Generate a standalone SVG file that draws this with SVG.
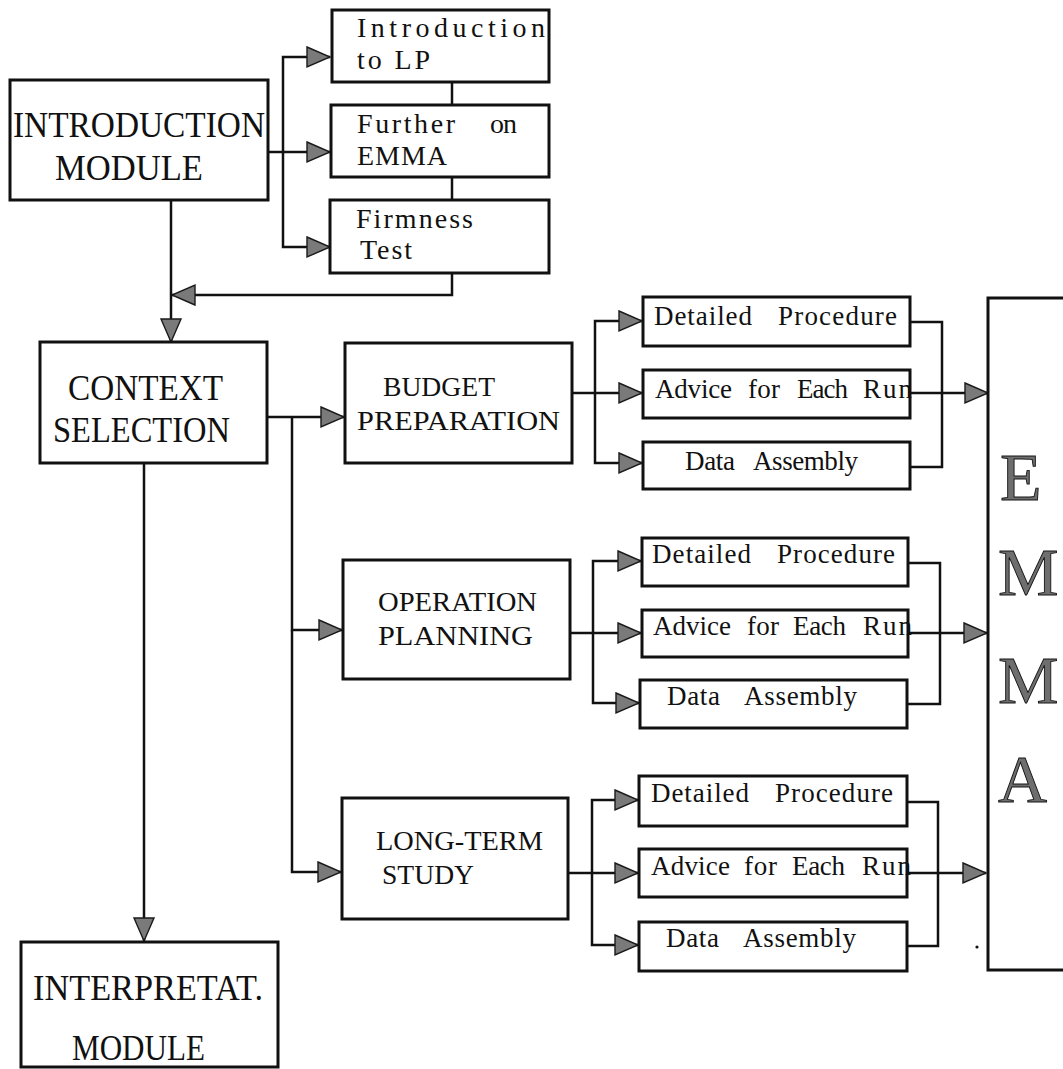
<svg xmlns="http://www.w3.org/2000/svg" width="1063" height="1069" viewBox="0 0 1063 1069">
  <style>
    .box { fill: #fff; stroke: #111; stroke-width: 3; }
    .wire { fill: none; stroke: #111; stroke-width: 2.5; }
    text { font-family: "Liberation Serif", "Times New Roman", serif; fill: #111; }
    .big { font-size: 36px; }
    .mid { font-size: 28px; }
    .sm { font-size: 28px; }
    .step { font-size: 27px; }
    .huge { font-size: 68px; fill: #6e6e6e; stroke: #111; stroke-width: 0.9; }
  </style>
  <defs>
    <marker id="arr" markerUnits="userSpaceOnUse" markerWidth="26" markerHeight="24" refX="24" refY="12" orient="auto" overflow="visible">
      <path d="M1,2 L24,12 L1,22 Z" fill="#7a7a7a" stroke="#1a1a1a" stroke-width="1.4"/>
    </marker>
  </defs>
  <rect width="1063" height="1069" fill="#fff"/>

  <!-- connectors -->
  <g id="connectors" class="wire">
    <!-- introduction module fan-out -->
    <path d="M268,152 H283"/>
    <path d="M283,152 V57 H330" marker-end="url(#arr)"/>
    <path d="M283,152 H330" marker-end="url(#arr)"/>
    <path d="M283,152 V247 H330" marker-end="url(#arr)"/>
    <path d="M452,82 V105"/>
    <path d="M452,177 V200"/>
    <path d="M452,273 V295 H172" marker-end="url(#arr)"/>
    <path d="M171,200 V342" marker-end="url(#arr)"/>
    <!-- context selection -->
    <path d="M267,417 H344" marker-end="url(#arr)"/>
    <path d="M292,417 V630 H342" marker-end="url(#arr)"/>
    <path d="M292,630 V872 H341" marker-end="url(#arr)"/>
    <path d="M144,463 V941" marker-end="url(#arr)"/>
    <!-- budget preparation group -->
    <path d="M572,393 H595"/>
    <path d="M595,393 V321 H642" marker-end="url(#arr)"/>
    <path d="M595,393 H642" marker-end="url(#arr)"/>
    <path d="M595,393 V463 H642" marker-end="url(#arr)"/>
    <path d="M910,322 H942 V467 H910"/>
    <path d="M910,393 H988" marker-end="url(#arr)"/>
    <!-- operation planning group -->
    <path d="M570,633 H593"/>
    <path d="M593,633 V561 H641" marker-end="url(#arr)"/>
    <path d="M593,633 H641" marker-end="url(#arr)"/>
    <path d="M593,633 V703 H639" marker-end="url(#arr)"/>
    <path d="M908,563 H940 V704 H907"/>
    <path d="M908,633 H987" marker-end="url(#arr)"/>
    <!-- long-term study group -->
    <path d="M568,873 H592"/>
    <path d="M592,873 V800 H638" marker-end="url(#arr)"/>
    <path d="M592,873 H638" marker-end="url(#arr)"/>
    <path d="M592,873 V945 H638" marker-end="url(#arr)"/>
    <path d="M907,802 H938 V946 H907"/>
    <path d="M907,873 H986" marker-end="url(#arr)"/>
  </g>

  <g id="intro-module">
    <rect class="box" x="10" y="80" width="258" height="120"/>
    <text class="big" x="13" y="137" textLength="252" lengthAdjust="spacingAndGlyphs">INTRODUCTION</text>
    <text class="big" x="55" y="180" textLength="148" lengthAdjust="spacingAndGlyphs">MODULE</text>
  </g>
  <g id="intro-lp">
    <rect class="box" x="332" y="10" width="217" height="72"/>
    <text class="sm" x="357" y="37" textLength="188">Introduction</text>
    <text class="sm" x="357" y="69" textLength="73">to LP</text>
  </g>
  <g id="further-emma">
    <rect class="box" x="331" y="105" width="218" height="72"/>
    <text class="sm" x="357" y="133" textLength="98">Further</text>
    <text class="sm" x="490" y="133" textLength="27">on</text>
    <text class="sm" x="357" y="165" textLength="90">EMMA</text>
  </g>
  <g id="firmness-test">
    <rect class="box" x="330" y="200" width="219" height="73"/>
    <text class="sm" x="356" y="228" textLength="117">Firmness</text>
    <text class="sm" x="360" y="259" textLength="52">Test</text>
  </g>

  <g id="context-selection">
    <rect class="box" x="40" y="342" width="227" height="121"/>
    <text class="big" x="68" y="400" textLength="155" lengthAdjust="spacingAndGlyphs">CONTEXT</text>
    <text class="big" x="53" y="442" textLength="177" lengthAdjust="spacingAndGlyphs">SELECTION</text>
  </g>

  <g id="budget-preparation">
    <rect class="box" x="345" y="343" width="227" height="120"/>
    <text class="mid" x="383" y="396" textLength="112" lengthAdjust="spacingAndGlyphs">BUDGET</text>
    <text class="mid" x="357" y="430" textLength="203" lengthAdjust="spacingAndGlyphs">PREPARATION</text>
  </g>
  <g id="operation-planning">
    <rect class="box" x="343" y="560" width="227" height="119"/>
    <text class="mid" x="378" y="611" textLength="159" lengthAdjust="spacingAndGlyphs">OPERATION</text>
    <text class="mid" x="378" y="645" textLength="155" lengthAdjust="spacingAndGlyphs">PLANNING</text>
  </g>
  <g id="long-term-study">
    <rect class="box" x="342" y="798" width="226" height="121"/>
    <text class="mid" x="376" y="850" textLength="167" lengthAdjust="spacingAndGlyphs">LONG-TERM</text>
    <text class="mid" x="382" y="884" textLength="92" lengthAdjust="spacingAndGlyphs">STUDY</text>
  </g>

  <g id="interpretation-module">
    <rect class="box" x="21" y="942" width="257" height="125"/>
    <text class="big" x="33" y="1000" textLength="230" lengthAdjust="spacingAndGlyphs">INTERPRETAT.</text>
    <text class="big" x="72" y="1060" textLength="133" lengthAdjust="spacingAndGlyphs">MODULE</text>
  </g>

  <!-- budget preparation steps -->
  <g id="bp-procedure">
    <rect class="box" x="643" y="297" width="267" height="49"/>
    <text class="step" x="654" y="325" textLength="98">Detailed</text>
    <text class="step" x="778" y="325" textLength="119">Procedure</text>
  </g>
  <g id="bp-advice">
    <rect class="box" x="643" y="370" width="267" height="48"/>
    <text class="step" x="655" y="398" textLength="77">Advice</text>
    <text class="step" x="748" y="398" textLength="32">for</text>
    <text class="step" x="797" y="398" textLength="51">Each</text>
    <text class="step" x="863" y="398" textLength="49">Run</text>
  </g>
  <g id="bp-data">
    <rect class="box" x="643" y="442" width="267" height="47"/>
    <text class="step" x="685" y="470" textLength="50">Data</text>
    <text class="step" x="753" y="470" textLength="105">Assembly</text>
  </g>

  <!-- operation planning steps -->
  <g id="op-procedure">
    <rect class="box" x="642" y="538" width="266" height="48"/>
    <text class="step" x="652" y="563" textLength="99">Detailed</text>
    <text class="step" x="777" y="563" textLength="118">Procedure</text>
  </g>
  <g id="op-advice">
    <rect class="box" x="642" y="610" width="266" height="47"/>
    <text class="step" x="653" y="635" textLength="78">Advice</text>
    <text class="step" x="747" y="635" textLength="32">for</text>
    <text class="step" x="793" y="635" textLength="53">Each</text>
    <text class="step" x="863" y="635" textLength="49">Run</text>
  </g>
  <g id="op-data">
    <rect class="box" x="640" y="680" width="267" height="48"/>
    <text class="step" x="667" y="705" textLength="53">Data</text>
    <text class="step" x="744" y="705" textLength="113">Assembly</text>
  </g>

  <!-- long-term study steps -->
  <g id="lt-procedure">
    <rect class="box" x="639" y="776" width="268" height="50"/>
    <text class="step" x="651" y="802" textLength="98">Detailed</text>
    <text class="step" x="775" y="802" textLength="118">Procedure</text>
  </g>
  <g id="lt-advice">
    <rect class="box" x="639" y="849" width="268" height="48"/>
    <text class="step" x="651" y="875" textLength="79">Advice</text>
    <text class="step" x="744" y="875" textLength="33">for</text>
    <text class="step" x="792" y="875" textLength="53">Each</text>
    <text class="step" x="862" y="875" textLength="49">Run</text>
  </g>
  <g id="lt-data">
    <rect class="box" x="639" y="922" width="268" height="49"/>
    <text class="step" x="666" y="947" textLength="53">Data</text>
    <text class="step" x="743" y="947" textLength="113">Assembly</text>
  </g>

  <!-- EMMA model, right edge runs off the page -->
  <g id="emma">
    <rect class="box" x="988" y="298" width="100" height="672"/>
    <text class="huge" x="1000" y="500">E</text>
    <text class="huge" x="998" y="595">M</text>
    <text class="huge" x="998" y="703">M</text>
    <text class="huge" x="998" y="802">A</text>
  </g>
  <circle cx="977" cy="947" r="1.6" fill="#111"/>
</svg>
